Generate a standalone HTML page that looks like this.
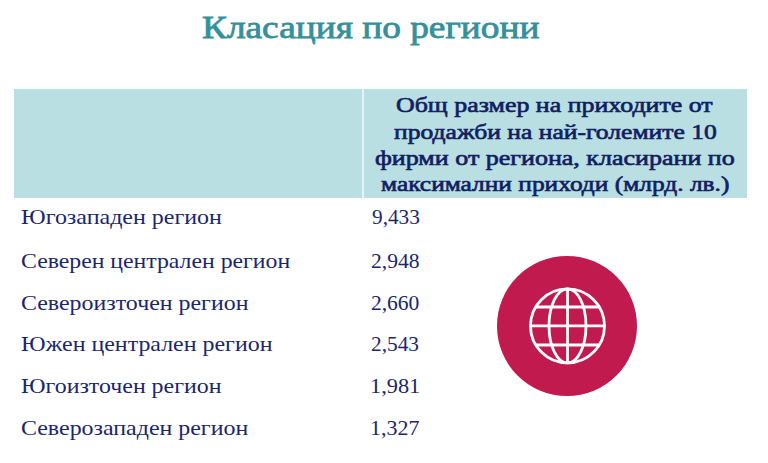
<!DOCTYPE html>
<html>
<head>
<meta charset="utf-8">
<style>
html,body{margin:0;padding:0;background:#fff;}
body{width:768px;height:463px;position:relative;overflow:hidden;font-family:"Liberation Serif",serif;}
.t{position:absolute;white-space:nowrap;line-height:1;transform-origin:0 0;}
.ti{font-size:32px;font-weight:normal;color:#36909a;-webkit-text-stroke:0.8px #36909a;}
.h{font-size:21px;font-weight:normal;color:#121e62;-webkit-text-stroke:0.65px #121e62;}
.r{font-size:22px;color:#1a2670;}
.n{font-size:22px;color:#1a2670;}
#hdr{position:absolute;left:14px;top:89px;width:733px;height:109px;background:#b9dfe2;}
#dv{position:absolute;left:362px;top:89px;width:2px;height:109px;background:#e2f4f5;}
#globe{position:absolute;left:496.5px;top:256.3px;width:140px;height:140px;border-radius:50%;background:#c01a4f;}
</style>
</head>
<body>
<div id="hdr"></div>
<div id="dv"></div>
<div class="t ti" id="title" style="left:202.03px;top:11.00px;transform:scaleX(1.1669)">Класация по региони</div>
<div class="t h" id="h1" style="left:395.52px;top:95.00px;transform:scaleX(1.2325)">Общ размер на приходите от</div>
<div class="t h" id="h2" style="left:393.81px;top:122.00px;transform:scaleX(1.2178)">продажби на най-големите 10</div>
<div class="t h" id="h3" style="left:374.54px;top:148.00px;transform:scaleX(1.2383)">фирми от региона, класирани по</div>
<div class="t h" id="h4" style="left:381.12px;top:174.00px;transform:scaleX(1.2091)">максимални приходи (млрд. лв.)</div>
<div class="t r" id="r1" style="left:21.40px;top:206.00px;transform:scaleX(1.0897)">Югозападен регион</div>
<div class="t r" id="r2" style="left:21.00px;top:250.40px;transform:scaleX(1.0796)">Северен централен регион</div>
<div class="t r" id="r3" style="left:21.21px;top:292.10px;transform:scaleX(1.0862)">Североизточен регион</div>
<div class="t r" id="r4" style="left:20.99px;top:333.10px;transform:scaleX(1.0869)">Южен централен регион</div>
<div class="t r" id="r5" style="left:21.42px;top:375.40px;transform:scaleX(1.0848)">Югоизточен регион</div>
<div class="t r" id="r6" style="left:21.22px;top:417.40px;transform:scaleX(1.0873)">Северозападен регион</div>
<div class="t n" id="n1" style="left:371.64px;top:206.00px;transform:scaleX(0.9669)">9,433</div>
<div class="t n" id="n2" style="left:371.41px;top:250.40px;transform:scaleX(0.9801)">2,948</div>
<div class="t n" id="n3" style="left:371.00px;top:292.10px;transform:scaleX(0.9772)">2,660</div>
<div class="t n" id="n4" style="left:371.08px;top:333.10px;transform:scaleX(0.9693)">2,543</div>
<div class="t n" id="n5" style="left:369.93px;top:375.40px;transform:scaleX(1.0160)">1,981</div>
<div class="t n" id="n6" style="left:370.35px;top:417.40px;transform:scaleX(0.9979)">1,327</div>
<div id="globe">
<svg width="140" height="140" viewBox="0 0 140 140" style="position:absolute;left:0;top:0">
<g fill="none" stroke="#fff" stroke-width="2.8">
<circle cx="70.5" cy="69.9" r="37"/>
<ellipse cx="70.5" cy="69.9" rx="18.5" ry="37"/>
<line x1="70.5" y1="32.9" x2="70.5" y2="106.9"/>
<line x1="33.5" y1="69.9" x2="107.5" y2="69.9"/>
<line x1="38.4" y1="51" x2="102.6" y2="51"/>
<line x1="38.4" y1="89" x2="102.6" y2="89"/>
</g>
</svg>
</div>
</body>
</html>
